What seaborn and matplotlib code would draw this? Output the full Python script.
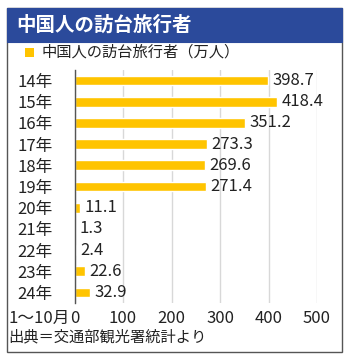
import matplotlib
matplotlib.use("Agg")
import matplotlib.pyplot as plt
import seaborn as sns
import pandas as pd
from matplotlib.patches import Rectangle

years = ["14年", "15年", "16年", "17年", "18年", "19年", "20年", "21年", "22年", "23年", "24年"]
visitors = [398.7, 418.4, 351.2, 273.3, 269.6, 271.4, 11.1, 1.3, 2.4, 22.6, 32.9]
xticks = [0, 100, 200, 300, 400, 500]

title = "中国人の訪台旅行者"
legend_label = "中国人の訪台旅行者（万人）"
note = "1～10月"
source = "出典＝交通部観光署統計より"

sns.set_theme(style="white")
plt.rcParams['font.family'] = ['Noto Sans CJK JP', 'DejaVu Sans']

W, H = 350, 357
fig = plt.figure(figsize=(W / 100, H / 100), dpi=100)

def fx(px):
    return px / W

def fy(py):
    return 1 - py / H

# outer border
fig.patches.append(Rectangle((fx(7), fy(352)), fx(342) - fx(7), fy(8) - fy(352),
                             transform=fig.transFigure, facecolor="white",
                             edgecolor="#555555", linewidth=1.0, zorder=-10))
# title bar
fig.patches.append(Rectangle((fx(7), fy(42)), fx(342) - fx(7), fy(8) - fy(42),
                             transform=fig.transFigure, facecolor="#2b4a9b",
                             edgecolor="#2b4a9b", linewidth=0.8, zorder=-9))
fig.text(fx(16), fy(25), title, color="white", fontsize=14, fontweight="bold",
         va="center", ha="left")

# legend
fig.patches.append(Rectangle((fx(25), fy(57)), fx(34) - fx(25), fy(48) - fy(57),
                             transform=fig.transFigure, facecolor="#ffc400",
                             edgecolor="none", zorder=2))
fig.text(fx(42), fy(52), legend_label, color="#222222", fontsize=11,
         va="center", ha="left")

ax = fig.add_axes([fx(74.5), fy(303), fx(317) - fx(74.5), fy(70) - fy(303)])
df = pd.DataFrame({"year": years, "visitors": visitors})
sns.barplot(data=df, x="visitors", y="year", orient="h", color="#ffc400",
            saturation=1, width=0.46, ax=ax, zorder=3)
ax.set_xlim(0, 500)
ax.set_ylim(len(years) - 0.5, -0.5)
ax.set_xticks(xticks)
ax.set_xticklabels([str(t) for t in xticks], fontsize=12, color="#222222")
ax.tick_params(axis="y", labelsize=12, labelcolor="#222222", length=0, pad=16)
ax.tick_params(axis="x", length=0, pad=5)
ax.set_xlabel("")
ax.set_ylabel("")
ax.patch.set_alpha(0)
for s in ["top", "right", "bottom"]:
    ax.spines[s].set_visible(False)
ax.spines["left"].set_color("#555555")
ax.spines["left"].set_linewidth(1.0)
ax.spines["left"].set_zorder(5)
ax.xaxis.grid(True, color="#d8d8d8", linewidth=1.0, zorder=0)
ax.set_axisbelow(True)
for c in ax.containers:
    ax.bar_label(c, labels=[f"{v:.1f}" for v in visitors], padding=3,
                 fontsize=12, color="#222222")

fig.text(fx(8), fy(318), note, fontsize=12, color="#222222", va="center", ha="left")
fig.text(fx(8), fy(337), source, fontsize=11, color="#222222", va="center", ha="left")

fig.savefig("out.png", dpi=100)
